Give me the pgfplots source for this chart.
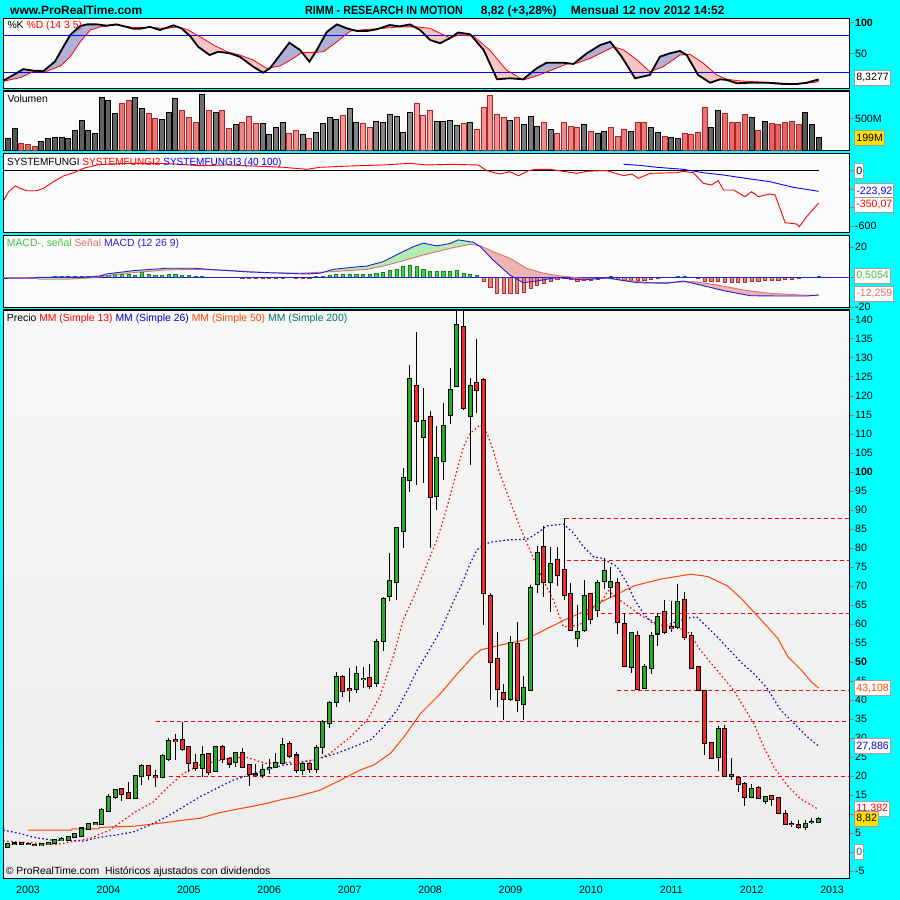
\documentclass[border=0pt]{standalone}
\usepackage{pgfplots}
\pgfplotsset{compat=1.18}
\usepackage{pgfplotstable}
\usepackage{fontspec}
\setmainfont{Liberation Sans}

\definecolor{bgcyan}{HTML}{00FFFF}
\definecolor{panelbg}{HTML}{FBFBFB}
\definecolor{candleup}{HTML}{22B022}
\definecolor{candledn}{HTML}{F82828}
\definecolor{ma13}{HTML}{FF0000}
\definecolor{ma26}{HTML}{0000CC}
\definecolor{ma50}{HTML}{FF4500}
\definecolor{ma200}{HTML}{007070}
\definecolor{tickred}{HTML}{E06060}
\definecolor{stochblue}{HTML}{AEB0D6}
\definecolor{stochpink}{HTML}{F4C6C6}
\definecolor{volgraydark}{HTML}{555555}
\definecolor{volgraylight}{HTML}{8C8C8C}
\definecolor{volreddark}{HTML}{E86060}
\definecolor{volredlight}{HTML}{F8A0A0}
\definecolor{volredline}{HTML}{A82828}
\definecolor{macdgreen}{HTML}{B2EEB2}
\definecolor{macdpink}{HTML}{F0B4B4}
\definecolor{histgreen}{HTML}{44D044}
\definecolor{histgreenline}{HTML}{118811}
\definecolor{histred}{HTML}{F08080}
\definecolor{histredline}{HTML}{B03030}
\definecolor{signal}{HTML}{E07070}
\definecolor{macdblue}{HTML}{2020E0}
\definecolor{boxline}{HTML}{A0A0A0}
\definecolor{boxyellow}{HTML}{FFE000}
\definecolor{titlegreen}{HTML}{40C040}

\newcommand\tkf{\fontsize{10.6}{12}\selectfont}
\newcommand\ptf{\fontsize{10.4}{12}\selectfont}
\newcommand\ttlf{\fontsize{12}{14}\selectfont\bfseries}

% monthly candles, month index 0 = Jan 2003
\pgfplotstableread{
i O H L C
-3 1.3 2.1 1.0 2.0
-2 2.05 2.4 1.9 2.25
-1 2.5 2.6 1.9 2.05
0 2.0 2.2 1.8 2.05
1 1.95 2.1 1.7 1.9
2 1.95 2.2 1.8 2.0
3 2.0 2.6 1.9 2.5
4 2.5 3.2 2.4 3.1
5 3.2 3.9 3.0 3.35
6 3.3 4.1 3.2 4.0
7 3.9 4.9 3.8 4.7
8 4.3 6.4 4.2 6.2
9 6.0 7.6 5.9 7.4
10 7.3 7.9 7.0 7.6
11 7.5 11.7 7.0 11.0
12 10.9 15.2 10.5 14.4
13 14.4 16.6 14.0 16.3
14 16.6 16.9 13.5 15.4
15 15.5 18.5 14.0 14.3
16 14.1 20.2 14.0 20.0
17 20.0 23.1 17.6 22.6
18 22.6 22.9 19.0 20.4
19 19.9 21.5 17.0 19.8
20 19.8 25.8 19.5 25.3
21 24.5 30.1 24.0 29.2
22 29.4 31.0 24.1 29.3
23 29.5 34.3 26.7 27.2
24 27.6 28.0 21.1 23.5
25 23.5 25.9 21.4 22.0
26 22.0 28.0 19.8 25.5
27 25.7 25.9 20.3 21.1
28 21.4 27.8 21.0 27.6
29 27.6 28.2 23.4 24.4
30 24.6 25.1 22.2 23.3
31 23.6 26.4 22.3 26.0
32 26.0 27.4 22.2 22.5
33 22.9 23.2 17.5 20.5
34 20.4 23.2 19.8 20.3
35 20.2 23.2 19.6 21.7
36 22.1 24.5 20.5 22.2
37 22.3 26.1 22.2 23.3
38 23.5 30.1 23.3 28.1
39 28.3 29.2 24.7 25.4
40 25.4 26.4 20.7 21.5
41 21.5 23.5 20.3 23.1
42 23.2 23.8 20.9 21.8
43 21.8 28.2 20.9 27.3
44 27.6 34.7 25.7 34.1
45 33.9 39.7 32.7 39.1
46 39.5 47.5 38.1 46.1
47 46.1 46.6 40.9 42.5
48 42.8 48.3 39.6 42.7
49 42.8 48.9 41.9 46.8
50 45.5 48.8 43.1 45.6
51 45.7 49.5 42.8 43.6
52 44.4 56.1 43.5 55.2
53 55.5 67.2 53.0 66.6
54 67.4 78.6 66.0 71.3
55 71.1 85.6 66.3 85.2
56 84.4 101.0 79.9 98.3
57 97.8 128.2 94.8 124.4
58 122.6 136.9 96.6 113.5
59 109.1 122.0 97.2 113.4
60 114.5 116.0 79.9 93.5
61 93.8 112.1 90.0 103.6
62 103.0 118.2 98.0 112.1
63 114.9 127.3 112.6 121.6
64 122.7 142.6 122.4 138.7
65 138.1 142.6 116.3 116.7
66 114.7 124.6 101.7 122.5
67 123.4 134.9 115.6 121.5
68 124.1 124.6 59.7 68.1
69 67.4 68.2 40.0 50.1
70 50.7 57.8 38.2 42.8
71 41.8 44.2 34.7 40.3
72 40.3 56.8 39.8 55.1
73 54.7 60.4 36.9 39.9
74 39.0 46.3 34.7 43.1
75 42.6 70.3 42.4 69.4
76 70.4 80.6 68.1 78.6
77 80.3 85.9 67.2 71.0
78 71.1 80.3 63.2 75.7
79 76.8 80.3 70.1 72.8
80 74.1 87.8 66.3 67.6
81 67.9 70.7 58.2 58.4
82 56.4 65.0 54.0 57.8
83 58.4 71.6 58.0 67.4
84 67.9 68.2 60.0 61.2
85 63.7 71.5 61.8 70.7
86 71.3 77.4 69.1 73.9
87 69.8 75.1 66.8 71.0
88 70.8 72.2 57.3 60.4
89 60.0 62.8 48.8 49.0
90 48.8 57.8 47.2 57.6
91 56.8 58.2 42.6 42.8
92 43.2 49.5 42.8 48.8
93 48.5 57.8 46.8 56.8
94 57.5 62.8 54.3 61.8
95 63.1 66.3 57.4 58.0
96 59.1 66.0 58.0 59.0
97 59.3 70.5 58.6 65.9
98 66.3 68.5 55.8 56.5
99 56.8 58.0 48.1 48.5
100 48.6 49.0 42.4 42.6
101 42.4 42.6 25.5 28.6
102 28.6 28.9 24.5 24.8
103 25.1 33.2 21.4 32.3
104 32.3 33.4 20.0 20.1
105 20.2 24.8 18.9 20.1
106 19.4 20.0 15.9 17.8
107 17.8 18.5 12.2 14.4
108 14.6 17.8 14.1 16.5
109 16.8 17.4 13.9 14.1
110 13.5 14.8 12.6 14.6
111 14.7 15.0 12.2 14.0
112 14.1 14.4 9.9 10.2
113 9.9 11.1 7.2 7.3
114 7.35 8.2 6.5 7.3
115 7.1 8.4 6.0 6.5
116 6.5 8.4 5.8 7.3
117 7.9 8.9 7.4 8.0
118 7.8 9.3 7.7 8.82
}\candles

\pgfplotsset{
  panel/.style={
    scale only axis, width=846.2pt,
    xmin=-3.69, xmax=122.6,
    anchor=north west,
    axis line style={line width=1.2pt},
    axis background/.style={fill=panelbg},
    xtick=\empty,
    ytick pos=right,
    tick align=outside,
    major tick length=4pt,
    ytick style={draw=tickred, line width=0.8pt},
    yticklabel style={font=\tkf, anchor=west, inner sep=0pt, xshift=1.5pt},
    /pgf/number format/assume math mode=true,
  },
  candle/.style={draw=none, mark=none, forget plot,
    error bars/y dir=both, error bars/y explicit, error bars/error mark=none},
}
\tikzset{
  valbox/.style={draw=boxline, line width=1pt, fill=white, font=\tkf,
    inner xsep=1.6pt, inner ysep=0pt, minimum height=15pt, anchor=west, xshift=4.8pt},
}

\begin{document}
\begin{tikzpicture}[x=1pt,y=1pt]
\useasboundingbox (0,0) rectangle (900,900);
\fill[bgcyan] (0,0) rectangle (900,900);

% ---------------- Stochastic %K %D
\begin{axis}[panel, at={(3.3pt,881.7pt)}, height=70pt,
  ymin=-5.8, ymax=106.8, ytick={50,100}, yticklabels={50,\textbf{100}}]
% band between %K and %D (pink where %D is above)
\addplot[fill=stochpink, draw=none] coordinates {
(-3.7,6.3) (-2.2,15.6) (-0.7,25) (0.8,22.5) (2.3,22) (4.0,37) (5.0,55.8) (6.3,80)
(7.8,94.4) (8.8,97) (10.3,97) (11.7,95) (13.2,97) (14.7,93) (15.7,90) (16.7,90)
(18.2,93) (19.7,88) (21.7,95.5) (22.9,90.6) (24.2,78) (25.4,61) (27.1,47.7)
(28.4,53) (30.1,50.5) (31.6,45) (33.6,29) (35.1,19.3) (36.1,26.3) (37.6,47.7)
(39.0,67.5) (40.6,55.8) (42.0,37) (43.1,55.8) (44.6,85) (46.1,97) (47.6,90.6)
(49.1,86.3) (50.6,86.3) (52.0,89) (54.0,96) (55.5,93.8) (57.0,97) (58.5,88)
(60.0,71.9) (61.5,66.6) (63.0,75) (64.2,84) (66.0,81) (68.0,55.8) (70.0,8.7)
(71.9,10.3) (73.9,8.7) (75.9,26.3) (77.4,35.4) (79.9,35.4) (81.4,33.3) (83.4,50.5)
(85.4,63.8) (86.9,69) (88.6,45) (90.6,10.3) (92.8,15.6) (94.3,45) (95.8,50.5)
(97.3,54.2) (98.3,47.7) (100.0,15.6) (101.8,3.2) (103.3,8.7) (104.3,7.6)
(105.8,2.3) (107.8,3.2) (110.3,3.2) (112.7,1.1) (114.7,1.1) (116.2,3.2)
(117.7,7.6) (118,8.3277)
(118,5) (117.7,4.3) (115.2,1.1) (110.3,3.8) (106.3,6) (104.3,8.7) (102.8,15.6)
(100.8,34.4) (98.8,48.8) (97.3,47.7) (94.8,29) (92.8,21) (90.9,39.7) (88.9,55.8)
(87.4,61) (85.9,53) (83.9,42.4) (81.9,34.6) (80.4,33.3) (77.9,22.5) (75.9,14)
(73.9,7.6) (71.4,23.6) (68.9,55.8) (66.5,78) (64.4,80) (63.0,75.5) (61.5,82.6)
(60.0,90.6) (58.0,93) (55.5,93) (53.0,90.6) (50.6,89) (48.1,86.3) (46.1,69)
(44.1,53) (42.6,52) (40.8,51.4) (39.6,42.4) (37.6,30) (35.6,26.3) (33.6,39.7)
(31.6,47.7) (29.7,53) (27.7,63.8) (25.7,77) (23.7,89) (22.2,93) (20.7,90.6)
(18.2,92) (15.7,92) (13.2,96) (10.8,93) (9.3,88) (7.8,69) (6.3,45) (4.8,30)
(2.8,21.5) (0.8,21) (-1.2,11.3) (-3.7,5.5)};
% lobes where %K is above %D
\addplot[fill=stochblue, draw=none] coordinates {
(-3.7,6.3) (-2.2,15.6) (-0.7,25) (0.8,22.5) (2.3,22) (4.0,37) (5.0,55.8) (6.3,80)
(7.8,94.4) (8.8,97) (10.3,97) (11.7,95) (13.2,97) (14.14,94.5) (13.2,96) (10.8,93)
(9.3,88) (7.8,69) (6.3,45) (4.8,30) (2.8,21.5) (0.8,21) (-1.2,11.3) (-3.7,5.5)};
\addplot[fill=stochblue, draw=none] coordinates {(17.7,92) (18.2,93) (18.56,91.8) (18.2,92)};
\addplot[fill=stochblue, draw=none] coordinates {(20.43,90.75) (21.7,95.5) (22.53,92.1) (22.2,93) (20.7,90.6)};
\addplot[fill=stochblue, draw=none] coordinates {(36.17,27.3) (37.6,47.7) (39.0,67.5) (40.6,55.8) (40.92,51.44) (40.8,51.4) (39.6,42.4) (37.6,30)};
\addplot[fill=stochblue, draw=none] coordinates {(42.89,52.2) (43.1,55.8) (44.6,85) (46.1,97) (47.6,90.6) (48.83,87.08) (48.1,86.3) (46.1,69) (44.1,53)};
\addplot[fill=stochblue, draw=none] coordinates {(52.33,90.15) (54.0,96) (55.5,93.8) (57.0,97) (57.67,93) (55.5,93) (53.0,90.6)};
\addplot[fill=stochblue, draw=none] coordinates {(63.12,75.9) (64.2,84) (66.0,81) (66.22,78.2) (64.4,80)};
\addplot[fill=stochblue, draw=none] coordinates {(73.7,8.86) (73.9,8.7) (75.9,26.3) (77.4,35.4) (79.9,35.4) (81.02,33.84) (80.4,33.3) (77.9,22.5) (75.9,14) (73.9,7.6)};
\addplot[fill=stochblue, draw=none] coordinates {(81.51,34.25) (83.4,50.5) (85.4,63.8) (86.9,69) (87.49,60.7) (87.4,61) (85.9,53) (83.9,42.4) (81.9,34.6)};
\addplot[fill=stochblue, draw=none] coordinates {(93.15,22.4) (94.3,45) (95.8,50.5) (97.3,54.2) (98.2,48.35) (97.3,47.7) (94.8,29)};
\addplot[fill=stochblue, draw=none] coordinates {(114.84,1.3) (116.2,3.2) (117.7,7.6) (118,8.3277) (118,5) (117.7,4.3) (115.2,1.1)};
\addplot[blue, line width=0.9pt] coordinates {(-3.69,80) (122.6,80)};
\addplot[blue, line width=0.9pt] coordinates {(-3.69,20) (122.6,20)};
% %D
\addplot[red, line width=0.8pt] coordinates {
(-3.7,5.5) (-1.2,11.3) (0.8,21) (2.8,21.5) (4.8,30) (6.3,45) (7.8,69) (9.3,88)
(10.8,93) (13.2,96) (15.7,92) (18.2,92) (20.7,90.6) (22.2,93) (23.7,89) (25.7,77)
(27.7,63.8) (29.7,53) (31.6,47.7) (33.6,39.7) (35.6,26.3) (37.6,30) (39.6,42.4)
(40.8,51.4) (42.6,52) (44.1,53) (46.1,69) (48.1,86.3) (50.6,89) (53.0,90.6)
(55.5,93) (58.0,93) (60.0,90.6) (61.5,82.6) (63.0,75.5) (64.4,80) (66.5,78)
(68.9,55.8) (71.4,23.6) (73.9,7.6) (75.9,14) (77.9,22.5) (80.4,33.3) (81.9,34.6)
(83.9,42.4) (85.9,53) (87.4,61) (88.9,55.8) (90.9,39.7) (92.8,21) (94.8,29)
(97.3,47.7) (98.8,48.8) (100.8,34.4) (102.8,15.6) (104.3,8.7) (106.3,6)
(110.3,3.8) (115.2,1.1) (117.7,4.3) (118,5)};
% %K
\addplot[black, line width=1.8pt] coordinates {
(-3.7,6.3) (-2.2,15.6) (-0.7,25) (0.8,22.5) (2.3,22) (4.0,37) (5.0,55.8) (6.3,80)
(7.8,94.4) (8.8,97) (10.3,97) (11.7,95) (13.2,97) (14.7,93) (15.7,90) (16.7,90)
(18.2,93) (19.7,88) (21.7,95.5) (22.9,90.6) (24.2,78) (25.4,61) (27.1,47.7)
(28.4,53) (30.1,50.5) (31.6,45) (33.6,29) (35.1,19.3) (36.1,26.3) (37.6,47.7)
(39.0,67.5) (40.6,55.8) (42.0,37) (43.1,55.8) (44.6,85) (46.1,97) (47.6,90.6)
(49.1,86.3) (50.6,86.3) (52.0,89) (54.0,96) (55.5,93.8) (57.0,97) (58.5,88)
(60.0,71.9) (61.5,66.6) (63.0,75) (64.2,84) (66.0,81) (68.0,55.8) (70.0,8.7)
(71.9,10.3) (73.9,8.7) (75.9,26.3) (77.4,35.4) (79.9,35.4) (81.4,33.3) (83.4,50.5)
(85.4,63.8) (86.9,69) (88.6,45) (90.6,10.3) (92.8,15.6) (94.3,45) (95.8,50.5)
(97.3,54.2) (98.3,47.7) (100.0,15.6) (101.8,3.2) (103.3,8.7) (104.3,7.6)
(105.8,2.3) (107.8,3.2) (110.3,3.2) (112.7,1.1) (114.7,1.1) (116.2,3.2)
(117.7,7.6) (118,8.3277)};
\coordinate (kbox) at (axis cs:122.6,8.3277);
\end{axis}

% ---------------- Volume
\begin{axis}[panel, at={(3.3pt,809pt)}, height=59.5pt,
  ymin=0, ymax=938, ytick={500}, yticklabels={500M}]
\addplot[ybar, bar width=5pt, bar shift=0pt, draw=black, line width=1pt,
  left color=volgraydark, right color=volgraydark, middle color=volgraylight] coordinates {
(-3,185) (-2,342) (2,147) (3,185) (4,200) (5,200) (6,185) (7,315) (8,473) (9,315)
(10,263) (11,841) (12,789) (13,589) (16,841) (17,657) (20,484) (21,604) (22,825)
(26,878) (28,604) (31,405) (35,421) (36,247) (37,368) (38,447) (41,247) (43,289)
(44,431) (45,526) (46,484) (48,657) (49,447) (52,463) (53,442) (54,568) (55,531)
(56,284) (57,599) (61,452) (62,452) (63,468) (64,389) (66,442) (72,473) (74,410)
(75,536) (76,379) (78,331) (83,405) (85,273) (86,305) (90,305) (93,358) (94,289)
(96,210) (97,185) (102,358) (103,631) (108,526) (110,463) (116,594) (117,405)
(118,199)};
\addplot[ybar, bar width=5pt, bar shift=0pt, draw=volredline, line width=1pt,
  left color=volreddark, right color=volreddark, middle color=volredlight] coordinates {
(-1,115) (0,90) (1,68) (14,736) (15,789) (18,579) (19,500) (23,631) (24,516)
(25,437) (27,631) (29,631) (30,342) (32,437) (33,541) (34,421) (39,263) (40,315)
(42,185) (47,547) (50,421) (51,358) (58,741) (59,547) (60,631) (65,426) (67,331)
(68,678) (69,867) (70,568) (71,520) (73,520) (77,442) (79,268) (80,437) (81,384)
(82,368) (84,300) (87,358) (88,226) (89,331) (91,437) (92,437) (95,221) (98,273)
(99,252) (100,289) (101,673) (104,579) (105,447) (106,437) (107,563) (109,315)
(111,421) (112,405) (113,437) (114,463) (115,405)};
\coordinate (vbox) at (axis cs:122.6,199);
\end{axis}

% ---------------- SYSTEMFUNGI
\begin{axis}[panel, at={(3.3pt,746.7pt)}, height=79pt,
  ymin=-668.1, ymax=188.7, ytick={0,-200,-400,-600},
  yticklabels={,,-400,-600}]
\addplot[black, line width=1pt] coordinates {(-3.69,0) (118,0)};
\addplot[red, line width=0.9pt] coordinates {
(-3.6,-318) (-2.9,-228) (-1.9,-166) (-1.2,-191) (-0.2,-217) (1.3,-217) (2.3,-191)
(3.8,-119) (5.3,-57) (6.8,-22) (8.3,26) (10.3,62) (12.2,73) (15.7,80) (19.2,80)
(21.7,73) (25.7,54) (29.7,62) (33.6,51) (38.1,37) (41.6,15) (43.6,37) (48.1,51)
(53.0,62) (57.0,80) (59.5,62) (63.0,69) (67.2,62) (68.5,0) (70.4,-36) (71.9,-11)
(73.2,-54) (74.7,0) (75.7,15) (77.9,15) (79.9,-7) (81.9,-29) (83.4,-7) (85.4,0)
(86.4,0) (88.9,-54) (90.1,-36) (91.1,-83) (92.8,-29) (96.8,-22) (97.8,-7)
(99.3,-22) (100.8,-137) (102.0,-155) (103.0,-108) (103.8,-209) (105.3,-209)
(107.0,-282) (108.0,-228) (109.0,-282) (110.7,-253) (111.5,-264) (113.0,-564)
(114.7,-578) (115.1,-607) (116.2,-499) (118,-350.07)};
\addplot[blue, line width=0.9pt] coordinates {
(88.9,69) (91.3,58) (93.8,37) (97.8,15) (100.8,-22) (103.8,-47) (107.8,-90)
(110.7,-119) (114.2,-180) (118,-223.92)};
\coordinate (f0) at (axis cs:122.6,0);
\coordinate (f3) at (axis cs:122.6,-223.92);
\coordinate (f2) at (axis cs:122.6,-350.07);
\end{axis}

% ---------------- MACD
\begin{axis}[panel, at={(3.3pt,664.3pt)}, height=71.6pt,
  ymin=-20, ymax=27.7, ytick={20,0,-20}, yticklabels={20,,-20}]
% band between MACD and signal (pink where the signal is above)
\addplot[fill=macdpink, draw=none] coordinates {
(-3.7,-0.7) (1.0,-0.6) (1.6,0.0) (9.3,0.2) (10.7,0.8) (11.7,2.2) (15.7,4.4)
(20.7,6.0) (24.7,6.0) (28.2,4.9) (33.1,3.5) (38.1,2.7) (41.6,2.2) (43.6,2.7)
(45.6,5.3) (48.6,6.7) (50.6,7.5) (53.0,10.4) (55.5,16.0) (57.5,20.4) (59.0,22.7)
(61.0,20.9) (63.0,22.5) (64.2,24.9) (66.5,23.3) (67.5,20.4) (69.4,11.5) (71.9,1.5)
(73.9,-3.6) (75.9,-2.5) (78.9,-0.2) (82.9,-1.8) (86.4,-0.3) (88.4,-1.9)
(90.9,-3.6) (95.3,-4.0) (97.8,-2.5) (100.3,-5.1) (103.8,-8.9) (107.8,-12.3)
(112.7,-12.5) (116.2,-12.5) (118,-11.75)
(118,-12.259) (115.2,-11.8) (110.7,-10.7) (106.8,-8.5) (102.8,-5.1) (99.3,-2.9)
(96.8,-3.3) (92.8,-3.6) (88.9,-1.8) (86.4,-0.8) (82.9,-0.7) (79.4,0.9) (76.9,2.7)
(74.4,6.0) (71.9,12.7) (69.4,17.1) (67.5,20.9) (66.0,22.0) (63.0,19.3) (59.0,14.9)
(55.5,10.4) (53.0,7.5) (50.6,5.3) (45.6,3.8) (40.6,2.7) (35.6,3.1) (30.6,4.4)
(25.7,5.3) (20.7,4.9) (15.7,3.1) (10.7,0.3) (9.3,-0.4) (5.8,-1.3) (1.6,-1.3)
(1.2,-0.3) (-3.7,-0.2)};
% lobes where MACD is above the signal
\addplot[fill=macdgreen, draw=none] coordinates {
(1.23,-0.37) (1.6,0.0) (9.3,0.2) (10.7,0.8) (11.7,2.2) (15.7,4.4) (20.7,6.0)
(24.7,6.0) (28.2,4.9) (28.79,4.73) (25.7,5.3) (20.7,4.9) (15.7,3.1) (10.7,0.3)
(9.3,-0.4) (5.8,-1.3) (1.6,-1.3)};
\addplot[fill=macdgreen, draw=none] coordinates {
(44.21,3.49) (45.6,5.3) (48.6,6.7) (50.6,7.5) (53.0,10.4) (55.5,16.0) (57.5,20.4)
(59.0,22.7) (61.0,20.9) (63.0,22.5) (64.2,24.9) (66.5,23.3) (67.27,21.07)
(66.0,22.0) (63.0,19.3) (59.0,14.9) (55.5,10.4) (53.0,7.5) (50.6,5.3) (45.6,3.8)};
\addplot[fill=macdgreen, draw=none] coordinates {(85.31,-0.77) (86.4,-0.3) (87.65,-1.3) (86.4,-0.8)};
\addplot[fill=macdgreen, draw=none] coordinates {(96.42,-3.33) (97.8,-2.5) (98.33,-3.05) (96.8,-3.3)};
\addplot[fill=macdgreen, draw=none] coordinates {(117.12,-12.12) (118,-11.75) (118,-12.259)};
% histogram
\addplot[ybar, bar width=3.2pt, bar shift=0pt, draw=histgreenline, line width=0.8pt,
  fill=histgreen] coordinates {
(4,0.8) (5,0.8) (6,0.8) (7,0.8) (8,0.8) (9,0.8) (10,0.9) (11,1.0) (12,1.5) (13,2.2)
(14,2.2) (15,1.8) (16,1.5) (17,3.1) (18,2.2) (19,1.5) (20,1.5) (21,2.2) (22,2.2)
(23,1.5) (24,1.3) (25,0.9) (26,0.9) (43,0.4) (44,0.9) (45,1.5) (46,2.2) (47,2.2)
(48,2.2) (49,1.8) (50,1.8) (51,2.2) (52,2.8) (53,3.3) (54,4.9) (55,5.5) (56,7.5)
(57,8.2) (58,7.5) (59,5.3) (60,4.2) (61,3.8) (62,3.8) (63,3.8) (64,4.4) (65,2.7)
(66,2.0) (67,1.1) (87,0.9) (97,0.9) (98,0.9) (118,0.5054)};
\addplot[ybar, bar width=3.2pt, bar shift=0pt, draw=histredline, line width=0.8pt,
  fill=histred] coordinates {
(32,-0.6) (33,-0.6) (34,-0.6) (35,-0.6) (36,-0.6) (37,-0.6) (38,-0.6) (40,-0.6)
(41,-0.6) (42,-0.6) (68,-2.5) (69,-6.7) (70,-10.7) (71,-10.7) (72,-10.7)
(73,-10.7) (74,-10.2) (75,-7.3) (76,-5.1) (77,-4.0) (78,-2.5) (79,-1.3) (80,-0.7)
(81,-1.3) (82,-2.5) (83,-1.8) (84,-1.8) (85,-1.3) (86,-0.9) (88,-1.1) (89,-1.8)
(90,-2.2) (91,-2.2) (92,-2.2) (93,-1.3) (94,-0.9) (95,-0.3) (99,-0.3) (100,-0.9)
(101,-2.5) (102,-2.9) (103,-2.9) (104,-3.3) (105,-3.6) (106,-3.3) (107,-3.3)
(108,-2.9) (109,-2.5) (110,-2.2) (111,-1.8) (112,-1.8) (113,-1.3) (114,-1.1)
(115,-0.9) (116,-0.3)};
\addplot[macdblue, line width=0.9pt] coordinates {(-3.69,0) (122.6,0)};
% signal line
\addplot[signal, line width=0.9pt] coordinates {
(-3.7,-0.2) (1.2,-0.3) (1.6,-1.3) (5.8,-1.3) (9.3,-0.4) (10.7,0.3) (15.7,3.1)
(20.7,4.9) (25.7,5.3) (30.6,4.4) (35.6,3.1) (40.6,2.7) (45.6,3.8) (50.6,5.3)
(53.0,7.5) (55.5,10.4) (59.0,14.9) (63.0,19.3) (66.0,22.0) (67.5,20.9) (69.4,17.1)
(71.9,12.7) (74.4,6.0) (76.9,2.7) (79.4,0.9) (82.9,-0.7) (86.4,-0.8) (88.9,-1.8)
(92.8,-3.6) (96.8,-3.3) (99.3,-2.9) (102.8,-5.1) (106.8,-8.5) (110.7,-10.7)
(115.2,-11.8) (118,-12.259)};
% MACD line
\addplot[macdblue, line width=0.9pt] coordinates {
(-3.7,-0.7) (1.0,-0.6) (1.6,0.0) (9.3,0.2) (10.7,0.8) (11.7,2.2) (15.7,4.4)
(20.7,6.0) (24.7,6.0) (28.2,4.9) (33.1,3.5) (38.1,2.7) (41.6,2.2) (43.6,2.7)
(45.6,5.3) (48.6,6.7) (50.6,7.5) (53.0,10.4) (55.5,16.0) (57.5,20.4) (59.0,22.7)
(61.0,20.9) (63.0,22.5) (64.2,24.9) (66.5,23.3) (67.5,20.4) (69.4,11.5) (71.9,1.5)
(73.9,-3.6) (75.9,-2.5) (78.9,-0.2) (82.9,-1.8) (86.4,-0.3) (88.4,-1.9)
(90.9,-3.6) (95.3,-4.0) (97.8,-2.5) (100.3,-5.1) (103.8,-8.9) (107.8,-12.3)
(112.7,-12.5) (116.2,-12.5) (118,-11.75)};
\coordinate (mh) at (axis cs:122.6,0.5054);
\coordinate (ms) at (axis cs:122.6,-12.259);
\end{axis}

% ---------------- Price
\begin{axis}[panel, at={(3.3pt,590pt)}, height=568.3pt,
  axis background/.style={top color=white!97!black, bottom color=white!93!black},
  ymin=-6.9, ymax=142.6,
  ytick={-5,0,...,140},
  yticklabels={-5,,5,,15,20,25,30,35,40,45,\textbf{50},55,60,65,70,75,80,85,90,95,\textbf{100},105,110,115,120,125,130,135,140},
  xtick={0,12,...,120},
  xticklabels={2003,2004,2005,2006,2007,2008,2009,2010,2011,2012,2013},
  xtick pos=left,
  xtick style={draw=gray!70, line width=0.8pt},
  xticklabel style={font=\tkf, anchor=north, inner sep=0pt, yshift=-3.5pt}]
% horizontal support / resistance levels
\addplot[red, line width=0.9pt, dash pattern=on 4pt off 3pt] coordinates {(19.1,34.4) (122.6,34.4)};
\addplot[red, line width=0.9pt, dash pattern=on 4pt off 3pt] coordinates {(21.0,20.0) (122.6,20.0)};
\addplot[red, line width=0.9pt, dash pattern=on 4pt off 3pt] coordinates {(80.1,87.8) (122.6,87.8)};
\addplot[red, line width=0.9pt, dash pattern=on 4pt off 3pt] coordinates {(80.4,76.8) (122.6,76.8)};
\addplot[red, line width=0.9pt, dash pattern=on 4pt off 3pt] coordinates {(85.5,62.8) (122.6,62.8)};
\addplot[red, line width=0.9pt, dash pattern=on 4pt off 3pt] coordinates {(87.9,42.4) (122.6,42.4)};
% simple moving averages
\addplot[ma50, line width=1pt] coordinates {
(0,5.8) (6.5,5.8) (6.6,6.1) (10.5,6.1) (10.7,6.5) (15.7,6.8) (18.2,7.3) (20.7,7.8)
(23.2,8.4) (25.7,8.9) (28.2,10.2) (30.6,11.1) (33.1,11.9) (35.6,12.8) (38.1,13.9)
(40.1,14.6) (43.6,16.3) (46.6,18.9) (49.6,21.6) (51.6,22.9) (54.1,26.0) (56.1,30.3)
(58.6,36.5) (61.6,41.8) (64.1,47.0) (66.6,51.8) (67.6,53.2) (70.6,54.5) (74.1,55.8)
(75.6,57.1) (77.6,58.9) (80.6,61.5) (83.6,63.7) (85.1,65.4) (90.4,70.0) (94.4,71.8)
(98.9,73.1) (101.4,72.5) (104.4,70.0) (106.4,66.8) (109.4,61.1) (111.9,56.2)
(113.4,51.4) (115.4,47.9) (116.9,44.8) (118,43.108)};
\addplot[ma26, line width=1.2pt, dash pattern=on 1.5pt off 2.5pt] coordinates {
(-3.7,5.8) (-1.2,4.9) (0.8,3.9) (3.3,3.2) (8.3,2.9) (10.7,3.9) (13.2,4.5) (15.7,5.3)
(18.2,7.1) (20.7,9.3) (23.2,11.9) (25.7,14.6) (28.2,16.8) (30.6,18.9) (33.1,20.3)
(35.6,21.6) (38.1,22.9) (40.1,23.3) (43.6,24.7) (46.1,26.0) (48.6,27.7) (51.1,29.5)
(53.1,33.0) (55.1,37.4) (56.6,42.6) (58.1,47.9) (59.6,52.3) (61.6,58.4) (63.6,66.3)
(65.0,71.6) (66.0,76.0) (67.0,79.5) (68.0,80.8) (69.0,81.5) (71.5,82.1) (74.5,82.3)
(76.0,83.9) (77.4,85.8) (79.9,86.3) (81.4,83.9) (82.9,80.3) (84.4,77.7) (85.6,77.3)
(87.9,75.1) (89.4,70.7) (90.4,66.8) (91.8,62.8) (93.3,60.0) (95.3,59.7) (98.3,61.5)
(99.8,61.9) (101.3,59.3) (103.3,55.8) (106.3,50.1) (108.3,47.0) (110.3,43.1)
(112.3,37.4) (114.3,33.9) (116.3,30.3) (118,27.886)};
\addplot[ma13, line width=1.2pt, dash pattern=on 1.5pt off 2.5pt] coordinates {
(-3.7,2.9) (4.3,2.0) (9.3,3.6) (12.2,5.8) (15.7,10.2) (18.7,13.2) (20.7,16.8)
(23.2,20.7) (25.7,22.9) (28.2,24.0) (30.6,24.9) (32.6,24.9) (35.6,23.3) (40.1,23.7)
(43.1,24.2) (45.1,26.0) (48.1,30.3) (50.6,34.7) (52.5,40.9) (54.5,51.4) (56.0,61.1)
(57.8,68.1) (59.0,73.3) (61.0,82.1) (62.0,87.4) (63.5,97.0) (65.0,106.7) (66.0,110.2)
(67.5,112.4) (68.5,110.2) (69.4,105.8) (70.4,99.6) (71.9,92.6) (73.4,85.6)
(74.9,79.5) (76.4,73.3) (77.4,69.8) (78.4,66.3) (79.9,59.3) (82.4,59.7) (83.9,63.7)
(85.4,65.5) (86.6,68.8) (88.6,65.9) (91.8,61.9) (94.3,59.7) (96.8,59.3) (98.8,57.5)
(100.3,53.2) (102.8,47.9) (105.3,42.6) (106.8,38.2) (108.3,33.9) (109.8,27.7)
(111.3,22.4) (113.3,17.6) (115.2,14.1) (117.7,11.5) (118,11.382)};
% candles: wicks, outlines, then coloured bodies
\addplot[candle, error bars/error bar style={draw=black, line width=1pt}]
  table[x=i, y expr={(\thisrow{H}+\thisrow{L})/2}, y error expr={(\thisrow{H}-\thisrow{L})/2}] {\candles};
\addplot[candle, error bars/error bar style={draw=black, line width=5pt}]
  table[x=i, y expr={(\thisrow{O}+\thisrow{C})/2}, y error expr={abs(\thisrow{C}-\thisrow{O})/2+0.27}] {\candles};
\addplot[candle, restrict y to domain=-50:200, error bars/error bar style={draw=candleup, line width=3pt}]
  table[x=i, y expr={\thisrow{C}>\thisrow{O} ? (\thisrow{O}+\thisrow{C})/2 : -1000}, y error expr={abs(\thisrow{C}-\thisrow{O})/2}] {\candles};
\addplot[candle, restrict y to domain=-50:200, error bars/error bar style={draw=candledn, line width=3pt}]
  table[x=i, y expr={\thisrow{C}<\thisrow{O} ? (\thisrow{O}+\thisrow{C})/2 : -1000}, y error expr={abs(\thisrow{C}-\thisrow{O})/2}] {\candles};
\coordinate (p50) at (axis cs:122.6,43.108);
\coordinate (p26) at (axis cs:122.6,27.886);
\coordinate (p13) at (axis cs:122.6,11.382);
\coordinate (pc) at (axis cs:122.6,8.82);
\coordinate (p200) at (axis cs:122.6,0);
\end{axis}

% ---------------- value boxes on the right scale
\node[valbox, yshift=2pt] at (kbox) {8,3277};
\node[valbox, fill=boxyellow] at (vbox) {199M};
\node[valbox] at (f0) {0};
\node[valbox, text=blue] at (f3) {-223,92};
\node[valbox, text=red, yshift=-2pt] at (f2) {-350,07};
\node[valbox, text=titlegreen, yshift=1pt] at (mh) {0,5054};
\node[valbox, text=signal, yshift=2pt] at (ms) {-12,259};
\node[valbox, text=ma50] at (p50) {43,108};
\node[valbox, text=ma26] at (p26) {27,886};
\node[valbox, text=ma13] at (p13) {11,382};
\node[valbox, fill=boxyellow] at (pc) {8,82};
\node[valbox, text=ma200] at (p200) {0};

% ---------------- titles
\node[anchor=base west, inner sep=0pt, font=\ttlf] at (10,885.7) {www.ProRealTime.com};
\node[anchor=base west, inner sep=0pt, font=\ttlf] at (305,885.7) {\scalebox{0.893}[1]{RIMM - RESEARCH IN MOTION}};
\node[anchor=base west, inner sep=0pt, font=\ttlf] at (480.7,885.7) {8,82 (+3,28\%)};
\node[anchor=base west, inner sep=0pt, font=\ttlf] at (570.7,885.7) {Mensual};
\node[anchor=base west, inner sep=0pt, font=\ttlf] at (622.3,885.7) {12 nov 2012 14:52};

\node[anchor=base west, inner sep=0pt, font=\ptf] at (7.3,871.3) {\%K \textcolor{red}{\%D (14 3 5)}};
\node[anchor=base west, inner sep=0pt, font=\ptf] at (7.3,797.3) {Volumen};
\node[anchor=base west, inner sep=0pt, font=\ptf] at (7.0,734.8) {\scalebox{0.965}[1]{SYSTEMFUNGI \textcolor{red}{SYSTEMFUNGI2} \textcolor{blue}{SYSTEMFUNGI3 (40 100)}}};
\node[anchor=base west, inner sep=0pt, font=\ptf] at (6.7,653.8) {\textcolor{titlegreen}{MACD-, señal} \textcolor{signal}{Señal} \textcolor{macdblue}{MACD (12 26 9)}};
\node[anchor=base west, inner sep=0pt, font=\ptf] at (6.7,578.3) {Precio \textcolor{ma13}{MM (Simple 13)} \textcolor{ma26}{MM (Simple 26)} \textcolor{ma50}{MM (Simple 50)} \textcolor{ma200}{MM (Simple 200)}};
\node[anchor=base west, inner sep=0pt, font=\ptf] at (5.7,25) {© ProRealTime.com\ \ Históricos ajustados con dividendos};
\end{tikzpicture}
\end{document}
